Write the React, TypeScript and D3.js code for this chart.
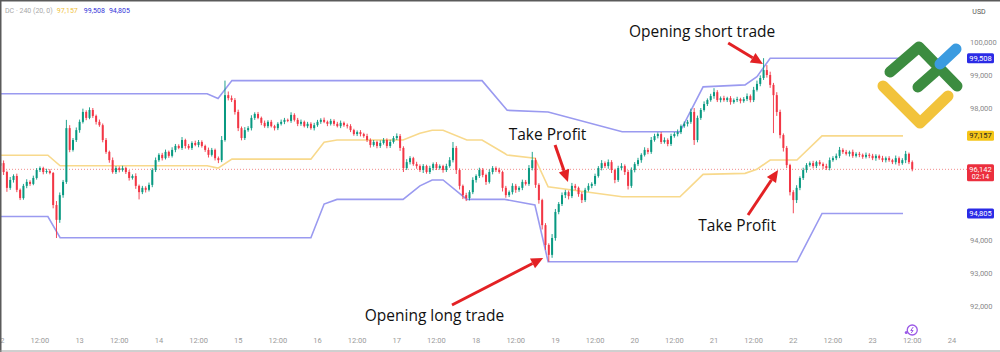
import React from 'react';
import * as d3 from 'd3';

const W = 1000;
const H = 352;

// hourly candles starting 12th 00:00
const firstOpen = 96250;
const closes = [
  96330, 96060, 95580, 95820, 95940, 95520, 95270, 95640, 95760, 95700, 95880, 96120,
  96180, 96060, 96090, 96030, 95060, 94610, 95360, 95760, 97390, 96730, 97030, 97330,
  97580, 97880, 97700, 97940, 97760, 97580, 97480, 97030, 96670, 96420, 96060, 96180,
  96120, 96180, 96060, 95880, 95940, 95640, 95450, 95580, 95520, 95670, 96120, 96420,
  96580, 96480, 96670, 96550, 96730, 96850, 96790, 97030, 96850, 96790, 96940, 96880,
  96970, 96850, 96730, 96580, 96730, 96480, 96420, 97030, 98390, 98300, 98240, 97880,
  97390, 97090, 97330, 97390, 97700, 97820, 97700, 97550, 97450, 97580, 97450, 97390,
  97520, 97580, 97640, 97610, 97790, 97640, 97520, 97580, 97450, 97520, 97390, 97480,
  97580, 97640, 97580, 97520, 97610, 97520, 97450, 97550, 97480, 97450, 97330, 97210,
  97270, 97210, 97150, 97030, 96880, 96970, 96850, 96940, 97030, 96850, 96970, 97090,
  97150, 96790, 96180, 96360, 96480, 96300, 96240, 96120, 96240, 96060, 96180, 96300,
  96180, 96240, 96120, 96240, 96420, 96790, 96120, 95640, 95360, 95270, 95450, 95820,
  95940, 96120, 95970, 95760, 96060, 96180, 96120, 96060, 95580, 95360, 95450, 95640,
  95520, 95580, 95760, 95700, 96180, 96420, 95670, 95210, 94450, 93850, 93550, 94060,
  94850, 95090, 95360, 95450, 95330, 95640, 95580, 95390, 95210, 95520, 95640, 95700,
  95940, 96180, 96330, 96240, 96360, 96120, 95820, 96180, 96240, 96060, 95640, 96120,
  96300, 96420, 96580, 96730, 96670, 97030, 97150, 97210, 96970, 97030, 96910, 97150,
  97210, 97270, 97450, 97520, 97580, 97880, 97030, 97700, 97940, 98120, 98240, 98360,
  98480, 98240, 98300, 98240, 98300, 98180, 98240, 98270, 98210, 98270, 98360, 98240,
  98550, 98730, 98910, 99150, 99000, 98700, 98390, 97880, 97180, 96790, 96270, 95450,
  95210, 95580, 95880, 96120, 96270, 96330, 96240, 96360, 96300, 96240, 96180, 96420,
  96480, 96550, 96730, 96670, 96610, 96670, 96550, 96610, 96580, 96520, 96580, 96550,
  96480, 96550, 96480, 96420, 96480, 96420, 96360, 96480, 96330, 96420, 96610, 96360,
  96142,
];
const wickUp = [
  60, 80, 40, 90, 50, 70, 40, 60, 80, 50, 70, 60,
  50, 40, 70, 60, 30, 120, 80, 60, 250, 90, 60, 80,
  70, 100, 50, 80, 60, 40, 70, 50, 60, 40, 80, 60,
  50, 70, 40, 60, 50, 80, 40, 60, 50, 70, 60, 80,
  50, 60, 70, 40, 80, 60, 50, 90, 40, 60, 50, 70,
  60, 50, 40, 70, 60, 40, 50, 120, 440, 110, 80, 60,
  70, 50, 90, 60, 80, 50, 60, 40, 70, 50, 60, 40,
  50, 70, 60, 40, 80, 50, 60, 70, 40, 60, 50, 70,
  60, 50, 70, 40, 60, 50, 60, 70, 40, 50, 60, 40,
  50, 60, 40, 70, 50, 60, 40, 80, 60, 50, 70, 60,
  80, 60, 50, 90, 60, 40, 70, 50, 60, 40, 70, 50,
  60, 50, 40, 70, 90, 180, 60, 50, 40, 70, 60, 80,
  50, 70, 60, 40, 80, 60, 50, 70, 40, 60, 50, 80,
  60, 50, 70, 60, 90, 250, 70, 50, 40, 60, 50, 120,
  90, 60, 80, 70, 50, 90, 60, 40, 70, 60, 80, 50,
  70, 60, 90, 50, 80, 60, 40, 70, 90, 50, 60, 80,
  60, 70, 50, 80, 60, 90, 70, 50, 60, 80, 50, 70,
  60, 80, 50, 70, 60, 100, 120, 70, 60, 80, 50, 70,
  120, 60, 50, 70, 40, 60, 50, 70, 40, 60, 80, 50,
  90, 100, 80, 360, 150, 100, 60, 90, 70, 50, 60, 40,
  60, 80, 50, 70, 60, 50, 70, 40, 60, 50, 70, 80,
  60, 70, 90, 50, 60, 40, 70, 50, 60, 40, 70, 50,
  60, 50, 40, 70, 50, 60, 40, 80, 50, 60, 90, 40,
  50,
];
const wickDown = [
  70, 90, 120, 60, 80, 70, 60, 50, 70, 60, 40, 50,
  60, 70, 50, 40, 100, 550, 90, 80, 60, 70, 50, 60,
  80, 50, 70, 40, 60, 80, 50, 70, 60, 80, 50, 60,
  70, 50, 60, 80, 50, 90, 220, 60, 80, 50, 70, 60,
  50, 70, 40, 60, 50, 70, 40, 60, 80, 50, 60, 40,
  70, 50, 60, 80, 50, 70, 90, 60, 50, 70, 60, 80,
  90, 70, 60, 50, 70, 60, 40, 70, 50, 60, 40, 70,
  60, 50, 70, 40, 60, 50, 70, 60, 40, 60, 50, 70,
  50, 60, 40, 70, 50, 60, 40, 60, 50, 70, 60, 50,
  60, 70, 50, 60, 80, 50, 70, 60, 50, 70, 60, 50,
  60, 90, 120, 60, 70, 50, 80, 60, 90, 50, 60, 70,
  60, 50, 80, 60, 50, 70, 120, 110, 120, 90, 70, 60,
  80, 60, 70, 90, 50, 70, 60, 50, 110, 80, 60, 70,
  90, 60, 70, 50, 60, 70, 90, 110, 130, 150, 210, 90,
  80, 70, 60, 90, 100, 60, 70, 80, 90, 60, 50, 70,
  60, 50, 70, 60, 80, 90, 100, 60, 70, 90, 110, 60,
  70, 60, 80, 50, 70, 60, 50, 70, 60, 50, 70, 60,
  50, 70, 60, 50, 80, 60, 150, 70, 60, 50, 60, 50,
  80, 60, 70, 50, 60, 80, 50, 60, 70, 50, 60, 70,
  60, 50, 70, 60, 80, 90, 1150, 120, 100, 110, 90, 100,
  400, 90, 70, 60, 80, 50, 70, 60, 50, 90, 60, 70,
  50, 60, 70, 60, 50, 80, 60, 50, 70, 60, 50, 70,
  60, 80, 50, 60, 70, 50, 60, 70, 80, 50, 90, 60,
  60,
];

// Donchian channel (4h, 20) breakpoints, hours from 12th 00:00
const upperHours = [0, 62.6, 65.9, 70.1, 145.8, 153.4, 165.8, 188.2, 205.7, 208.8, 212.7, 225.4, 229, 233, 273.2];
const upperValues = [98430, 98430, 98290, 98830, 98830, 97930, 97880, 97280, 97280, 97880, 98640, 98700, 98950, 99508, 99508];
const lowerHours = [0, 14.4, 18.1, 94, 98, 101.9, 121.9, 127, 130.7, 134, 141.2, 152.7, 161.8, 165.8, 241.1, 248.7, 273.2];
const lowerValues = [94710, 94710, 94070, 94070, 95090, 95230, 95230, 95640, 95820, 95820, 95230, 95230, 95060, 93340, 93340, 94805, 94805];

const priceTicks = [92000, 93000, 94000, 95000, 96000, 97000, 98000, 99000, 100000];
const timeTickLabels = ['12', '12:00', '13', '12:00', '14', '12:00', '15', '12:00', '16', '12:00', '17', '12:00', '18', '12:00', '19', '12:00', '20', '12:00', '21', '12:00', '22', '12:00', '23', '12:00', '24'];
const lastPrice = 96142;
const lastTimer = '02:14';
const middleLast = 97157;
const upperLast = 99508;
const lowerLast = 94805;

const annotations = [
  { text: 'Opening long trade', at: [131.4, 91546], tail: [136.7, 92031], head: [164.3, 93455] },
  { text: 'Take Profit', at: [165.6, 97030], tail: [167.9, 96879], head: [171.8, 95758] },
  { text: 'Opening short trade', at: [212.4, 100151], tail: [220.3, 99970], head: [230.8, 99333] },
  { text: 'Take Profit', at: [223, 94273], tail: [226.3, 94758], head: [235.4, 96121] },
];

const UP = '#089981';
const DOWN = '#f23645';
const BAND = '#9a9af0';
const MID = '#f8d98c';

export default function App() {
  const x = d3.scaleLinear().domain([0, 288]).range([0.3, 951.9]);
  const y = d3.scaleLinear().domain([92000, 100000]).range([306, 42]);
  const fmt = d3.format(',');

  const candles = closes.map((c, i) => {
    const o = i === 0 ? firstOpen : closes[i - 1];
    const hi = Math.max(o, c) + (wickUp[i] ?? 0);
    const lo = Math.min(o, c) - (wickDown[i] ?? 0);
    return { i, o, c, hi, lo };
  });

  const upperFn = d3.scaleLinear().domain(upperHours).range(upperValues).clamp(true);
  const lowerFn = d3.scaleLinear().domain(lowerHours).range(lowerValues).clamp(true);
  const midHours = Array.from(new Set([...upperHours, ...lowerHours])).sort((a, b) => a - b);
  const midPts = midHours.map((h) => [h, (upperFn(h) + lowerFn(h)) / 2]);

  const line = d3.line<number[]>().x((d) => x(d[0])).y((d) => y(d[1]));
  const upperPts = upperHours.map((h, k) => [h, upperValues[k]]);
  const lowerPts = lowerHours.map((h, k) => [h, lowerValues[k]]);

  const axisFont = { fontFamily: 'Roboto, "Noto Sans", sans-serif', fontSize: 7.5 };
  const annFont = { fontFamily: '"Open Sans", Lato, sans-serif', fontSize: 15.5, fontWeight: 500 };

  // badges (label boxes on the price axis); ticks hidden behind them are skipped
  const badges = [
    { v: upperLast, fill: '#2b2be6', color: '#fff', key: 'bu', h: 10 },
    { v: middleLast, fill: '#f5c518', color: '#222', key: 'bm', h: 10 },
    { v: lowerLast, fill: '#2b2be6', color: '#fff', key: 'bl', h: 10 },
    { v: lastPrice, fill: '#ec2f3e', color: '#fff', key: 'bp', h: 17, second: lastTimer },
  ];
  const visibleTicks = priceTicks.filter((p) => {
    const ty = y(p);
    return !badges.some((b) => {
      const top = y(b.v) - 5;
      return ty + 3 > top && ty - 3 < top + b.h;
    });
  });

  const arrow = (a: any, k: number) => {
    const x1 = x(a.tail[0]), y1 = y(a.tail[1]);
    const x2 = x(a.head[0]), y2 = y(a.head[1]);
    const ang = Math.atan2(y2 - y1, x2 - x1);
    const L = 12, Wd = 5.5;
    const bx = x2 - L * Math.cos(ang), by = y2 - L * Math.sin(ang);
    const px = -Math.sin(ang), py = Math.cos(ang);
    const pts = `${x2},${y2} ${bx + px * Wd},${by + py * Wd} ${bx - px * Wd},${by - py * Wd}`;
    return (
      <g key={'ar' + k}>
        <line x1={x1} y1={y1} x2={bx} y2={by} stroke="#e32124" strokeWidth={3} />
        <polygon points={pts} fill="#e32124" />
      </g>
    );
  };

  return (
    <svg width={W} height={H} style={{ position: 'absolute', left: 0, top: 0, background: '#fff' }}>
      <defs>
        <clipPath id="plot">
          <rect x={0} y={0} width={958} height={330} />
        </clipPath>
      </defs>
      <rect x={0} y={0} width={W} height={H} fill="#fff" />

      {/* price line */}
      <line x1={0} x2={967} y1={y(lastPrice)} y2={y(lastPrice)} stroke="#f28b8b" strokeWidth={1} strokeDasharray="1,2" />

      <g clipPath="url(#plot)">
        <path d={line(upperPts) || ''} fill="none" stroke={BAND} strokeWidth={1.6} />
        <path d={line(lowerPts) || ''} fill="none" stroke={BAND} strokeWidth={1.6} />
        <path d={line(midPts) || ''} fill="none" stroke={MID} strokeWidth={1.6} />
        {candles.map((d) => {
          const cx = x(d.i);
          const col = d.c >= d.o ? UP : DOWN;
          const top = y(Math.max(d.o, d.c));
          const bh = Math.max(1, y(Math.min(d.o, d.c)) - top);
          return (
            <g key={d.i}>
              <line x1={cx} x2={cx} y1={y(d.hi)} y2={y(d.lo)} stroke={col} strokeWidth={0.9} />
              <rect x={cx - 1} y={top} width={2} height={bh} fill={col} />
            </g>
          );
        })}
      </g>

      {/* logo */}
      <g fill="none" strokeLinecap="round" strokeLinejoin="round" strokeWidth={11}>
        <polyline points="883,86 920,123 948,96" stroke="#f2c33b" />
        <polyline points="890,72 919,47 957,86" stroke="#3c8c40" />
        <line x1={918} y1={87} x2={935} y2={72} stroke="#3c8c40" />
        <line x1={940} y1={64} x2={956} y2={49} stroke="#3b9be0" />
      </g>

      {/* annotations */}
      {annotations.map((a, k) => arrow(a, k))}
      {annotations.map((a, k) => (
        <text key={'t' + k} x={x(a.at[0])} y={y(a.at[1])} textAnchor="middle" fill="#111" style={annFont}>{a.text}</text>
      ))}

      {/* header */}
      <text x={5} y={12.5} style={{ ...axisFont, fontSize: 7 }}>
        <tspan fill="#a8a8a8">DC · 240 (20, 0)</tspan>
        <tspan dx={4} fill="#f0c23a">{fmt(middleLast)}</tspan>
        <tspan dx={6} fill="#3232d8">{fmt(upperLast)}</tspan>
        <tspan dx={4} fill="#3232d8">{fmt(lowerLast)}</tspan>
      </text>

      {/* right axis */}
      <text x={979} y={13.5} textAnchor="middle" fill="#555" style={{ ...axisFont, fontSize: 7 }}>USD</text>
      {visibleTicks.map((p) => (
        <text key={p} x={970} y={y(p) + 2.5} fill="#8a8a8a" style={axisFont}>{fmt(p)}</text>
      ))}
      {badges.map((b) => {
        const top = y(b.v) - 5;
        return (
          <g key={b.key}>
            <rect x={967} y={top} width={27} height={b.h} rx={1.5} fill={b.fill} />
            <text x={980.5} y={top + 7.5} textAnchor="middle" fill={b.color} style={axisFont}>{fmt(b.v)}</text>
            {b.second && (
              <text x={980.5} y={top + 15} textAnchor="middle" fill={b.color} style={{ ...axisFont, fontSize: 7 }}>{b.second}</text>
            )}
          </g>
        );
      })}

      {/* time axis */}
      {timeTickLabels.map((t, k) => (
        <text key={'x' + k} x={x(k * 12)} y={343} textAnchor="middle" fill="#9a9a9a" style={axisFont}>{t}</text>
      ))}

      {/* replay icon */}
      <g transform={`translate(${x(276)},330)`}>
        <circle r={5} fill="none" stroke="#9b59e6" strokeWidth={1.3} />
        <circle cx={-6} cy={2.5} r={1.5} fill="#9b59e6" />
        <path d="M1,-3 L-1.5,0.5 L0.8,0.5 L-1,3" fill="none" stroke="#9b59e6" strokeWidth={1} />
      </g>

      {/* frame */}
      <line x1={0} x2={W} y1={0.75} y2={0.75} stroke="#5a5a5a" strokeWidth={1.5} />
      <line x1={0.75} x2={0.75} y1={0} y2={H} stroke="#5a5a5a" strokeWidth={1.5} />
      <line x1={0} x2={W} y1={351} y2={351} stroke="#a0a0a0" strokeWidth={1} />
    </svg>
  );
}
